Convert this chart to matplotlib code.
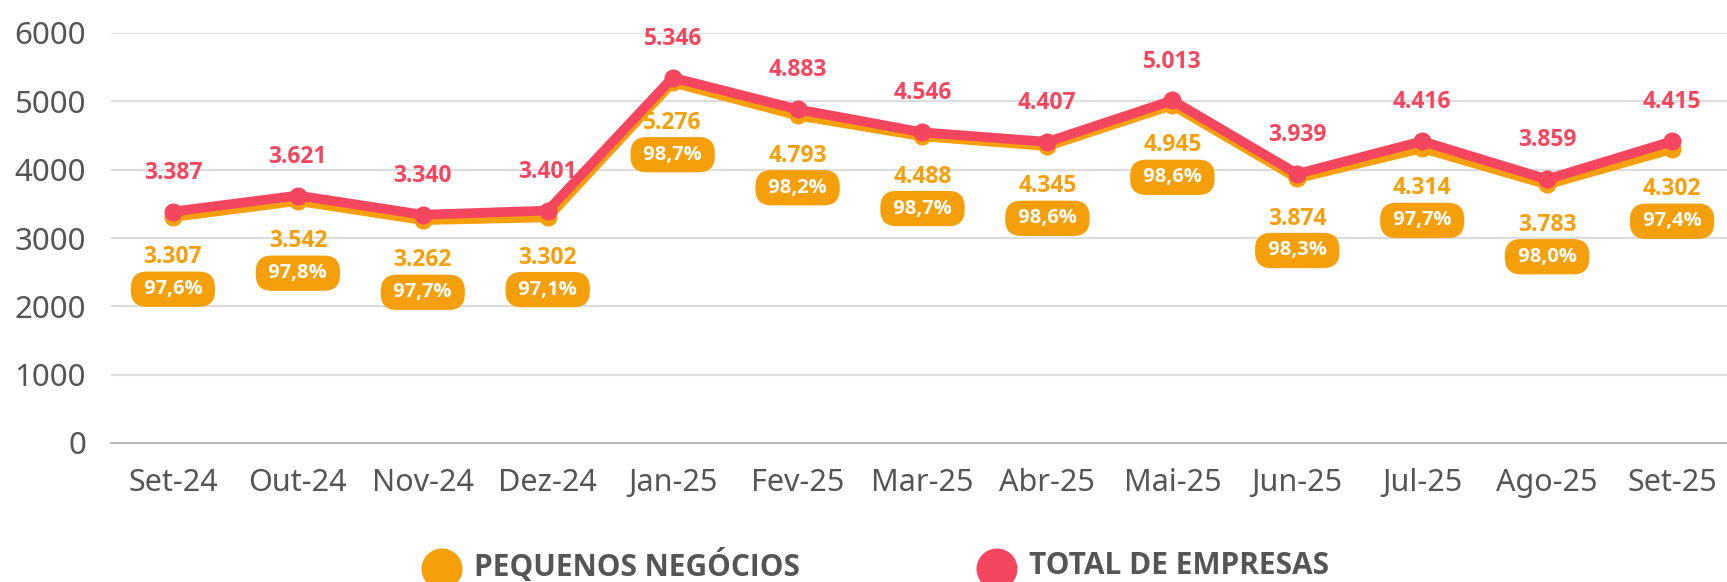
import matplotlib.pyplot as plt
from matplotlib.patches import Ellipse

months = ["Set-24", "Out-24", "Nov-24", "Dez-24", "Jan-25", "Fev-25", "Mar-25",
          "Abr-25", "Mai-25", "Jun-25", "Jul-25", "Ago-25", "Set-25"]
total = [3387, 3621, 3340, 3401, 5346, 4883, 4546, 4407, 5013, 3939, 4416, 3859, 4415]
pequenos = [3307, 3542, 3262, 3302, 5276, 4793, 4488, 4345, 4945, 3874, 4314, 3783, 4302]
share = ["97,6%", "97,8%", "97,7%", "97,1%", "98,7%", "98,2%", "98,7%",
         "98,6%", "98,6%", "98,3%", "97,7%", "98,0%", "97,4%"]

RED = "#F4475F"
ORANGE = "#F5A00B"
GRAY = "#555555"
BOLD = ['Open Sans', 'DejaVu Sans']

plt.rcParams['font.family'] = ['Noto Sans', 'DejaVu Sans']


def fmt(v):
    return f"{v:,}".replace(",", ".")


fig = plt.figure(figsize=(17.27, 5.82), dpi=100)
ax = fig.add_axes([111 / 1727, 139 / 582, 1 - 111 / 1727, 410 / 582])

x = list(range(len(months)))
ax.plot(x, pequenos, color=ORANGE, lw=7, marker="o", ms=12, zorder=3,
        solid_capstyle="round")
ax.plot(x, total, color=RED, lw=7, marker="o", ms=12, zorder=4,
        solid_capstyle="round")

for i in x:
    ax.annotate(fmt(total[i]), (i, total[i]), xytext=(0, 28), textcoords="offset points",
                ha="center", va="center", color=RED, fontsize=16.5, fontweight="bold",
                family=BOLD, annotation_clip=False)
    ax.annotate(fmt(pequenos[i]), (i, pequenos[i]), xytext=(0, -29), textcoords="offset points",
                ha="center", va="center", color=ORANGE, fontsize=16.5, fontweight="bold",
                family=BOLD, annotation_clip=False)
    ax.annotate(" " + share[i] + " ", (i, pequenos[i]), xytext=(0, -52), textcoords="offset points",
                ha="center", va="center", color="white", fontsize=14.5, fontweight="bold",
                family=BOLD, annotation_clip=False,
                bbox=dict(boxstyle="round,pad=0.38,rounding_size=0.8", fc=ORANGE, ec="none"))

ax.set_xlim(-0.496, 12.44)
ax.set_ylim(0, 6000)
ax.set_yticks(range(0, 6001, 1000))
ax.set_xticks(x)
ax.set_xticklabels(months)
ax.grid(axis="y", color="#dddddd", lw=1.5)
ax.set_axisbelow(True)
for s in ["top", "right", "left"]:
    ax.spines[s].set_visible(False)
ax.spines["bottom"].set_color("#bbbbbb")
ax.spines["bottom"].set_linewidth(1.5)
ax.tick_params(axis="x", length=0, pad=18, labelsize=22, labelcolor=GRAY)
ax.tick_params(axis="y", length=0, pad=18, labelsize=22.5, labelcolor=GRAY)

# legend at the bottom
legend = [("PEQUENOS NEGÓCIOS", ORANGE, 4.42), ("TOTAL DE EMPRESAS", RED, 9.97)]
for label, col, xin in legend:
    fig.patches.append(Ellipse((xin, 0.13), 0.41, 0.41, fc=col, ec="none",
                               transform=fig.dpi_scale_trans))
    fig.text((xin + 0.32) / 17.27, 0.16 / 5.82, label, ha="left", va="center",
             fontsize=21.5, fontweight="bold", family=BOLD, color=GRAY)

fig.savefig("out.png", dpi=100)
